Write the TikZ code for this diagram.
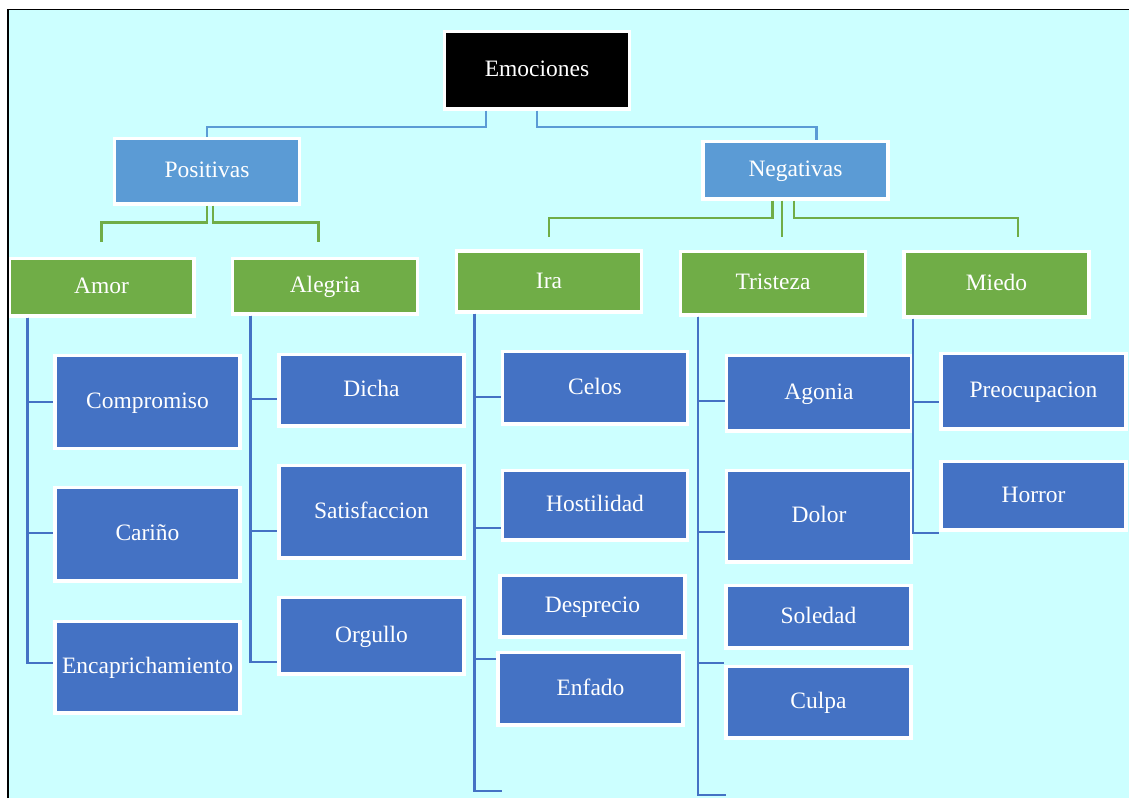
\documentclass[tikz,border=0pt]{standalone}
\usepackage{fontspec}
\setmainfont{Liberation Serif}

\definecolor{fondo}{HTML}{CCFFFF}
\definecolor{azulclaro}{HTML}{5B9BD5}
\definecolor{verde}{HTML}{70AD47}
\definecolor{azul}{HTML}{4472C4}

\tikzset{
    caja/.style={draw=white, line width=3.5pt, minimum width=185pt, inner sep=0pt,
        text height=17.5pt, text depth=4pt,
        text=white, font=\fontsize{23.5}{28}\selectfont},
    raiz/.style={caja, fill=black},
    grupo/.style={caja, fill=azulclaro},
    rama/.style={caja, fill=verde},
    hoja/.style={caja, fill=azul},
    lineagrupo/.style={azulclaro, line width=2.8pt},
    linearama/.style={verde, line width=2.8pt},
    lineahoja/.style={azul, line width=2.8pt}
}

\begin{document}
\begin{tikzpicture}[x=1pt, y=-1pt]
        \useasboundingbox (0,0) rectangle (1129,798);
        \fill[white] (0,0) rectangle (1129,798);
        \fill[fondo] (8,9.5) rectangle (1129,798);

        % raiz y grupos
        \node[raiz, minimum height=77.5pt] (emo) at (537,70) {Emociones};
        \node[grupo, minimum height=65.5pt] (pos) at (207,171) {Positivas};
        \node[grupo, minimum height=57.5pt] (neg) at (795.5,170) {Negativas};

        % ramas
        \node[rama, minimum height=57.5pt] (amor) at (101.5,287) {Amor};
        \node[rama, minimum height=55.5pt] (ale) at (325,286) {Alegria};
        \node[rama, minimum height=61pt] (ira) at (549,281.5) {Ira};
        \node[rama, minimum height=63.5pt] (tri) at (773,283) {Tristeza};
        \node[rama, minimum height=65.5pt] (mie) at (996.5,284) {Miedo};

        % hojas
        \node[hoja, minimum height=93pt] (com) at (147.5,402) {Compromiso};
        \node[hoja, minimum height=93.5pt] (car) at (147.5,534) {Cariño};
        \node[hoja, minimum height=91.5pt] (enc) at (147.5,667) {Encaprichamiento};

        \node[hoja, minimum height=71.5pt] (dic) at (371.5,390) {Dicha};
        \node[hoja, minimum height=92.5pt] (sat) at (371.5,511.5) {Satisfaccion};
        \node[hoja, minimum height=76.5pt] (org) at (371.5,635.5) {Orgullo};

        \node[hoja, minimum height=72.5pt] (cel) at (595,387.5) {Celos};
        \node[hoja, minimum height=69.5pt] (hos) at (595,505) {Hostilidad};
        \node[hoja, minimum height=61.5pt] (des) at (592.5,606) {Desprecio};
        \node[hoja, minimum height=72.5pt] (enf) at (590.5,688.5) {Enfado};

        \node[hoja, minimum height=75.5pt] (ago) at (819,393) {Agonia};
        \node[hoja, minimum height=91.5pt] (dol) at (819,516) {Dolor};
        \node[hoja, minimum height=62.5pt] (sol) at (818.5,616.5) {Soledad};
        \node[hoja, minimum height=71.5pt] (cul) at (818.5,702) {Culpa};

        \node[hoja, minimum height=75.5pt] (pre) at (1033.5,391) {Preocupacion};
        \node[hoja, minimum height=68.5pt] (hor) at (1033.5,495.5) {Horror};

        \coordinate (iraend) at (502,791);
        \coordinate (triend) at (726,795);

        % conectores
        \draw[lineagrupo] ([xshift=-51pt]emo.south) -- ++(0,16.5) -| (pos.north);
        \draw[lineagrupo] (emo.south) -- ++(0,16.5) -| ([xshift=21pt]neg.north);

        \draw[linearama] (pos.south) -- ++(0,17) -| ([yshift=14.5pt]amor.north);
        \draw[linearama] ([xshift=6pt]pos.south) -- ++(0,17) -| ([xshift=-6.5pt,yshift=14.5pt]ale.north);

        \draw[linearama] ([xshift=-23pt]neg.south) -- ++(0,17.5) -| ([yshift=12.25pt]ira.north);
        \draw[linearama] ([xshift=-13.5pt]neg.south) -- ([xshift=9pt,yshift=12.5pt]tri.north);
        \draw[linearama] ([xshift=-1.5pt]neg.south) -- ++(0,17.5) -| ([xshift=21.5pt,yshift=12.5pt]mie.north);

        \draw[lineahoja] ([xshift=20pt]amor.south west) |- (com.west);
        \draw[lineahoja] ([xshift=20pt]amor.south west) |- ([yshift=1pt]car.west);
        \draw[lineahoja] ([xshift=20pt]amor.south west) |- ([yshift=4pt]enc.west);

        \draw[lineahoja] ([xshift=20pt]ale.south west) |- ([yshift=-9pt]dic.west);
        \draw[lineahoja] ([xshift=20pt]ale.south west) |- ([yshift=-19.5pt]sat.west);
        \draw[lineahoja] ([xshift=20pt]ale.south west) |- ([yshift=-26.5pt]org.west);

        \draw[lineahoja] ([xshift=20pt]ira.south west) |- ([yshift=-9.5pt]cel.west);
        \draw[lineahoja] ([xshift=20pt]ira.south west) |- ([yshift=-23pt]hos.west);
        \draw[lineahoja] ([xshift=20pt]ira.south west) |- ([yshift=29.5pt]enf.west);
        \draw[lineahoja] ([xshift=20pt]ira.south west) |- (iraend);

        \draw[lineahoja] ([xshift=19.25pt]tri.south west) |- ([yshift=-8pt]ago.west);
        \draw[lineahoja] ([xshift=19.25pt]tri.south west) |- ([yshift=-16pt]dol.west);
        \draw[lineahoja] ([xshift=19.25pt]tri.south west) |- ([yshift=1.5pt]cul.north west);
        \draw[lineahoja] ([xshift=19.25pt]tri.south west) |- (triend);

        \draw[lineahoja] ([xshift=10.75pt]mie.south west) |- ([yshift=-11pt]pre.west);
        \draw[lineahoja] ([xshift=10.75pt]mie.south west) |- ([yshift=-1.5pt]hor.south west);

        % marco
        \draw[black, line width=1.5pt] (8,798) -- (8,9.5) -- (1129,9.5);
\end{tikzpicture}
\end{document}
